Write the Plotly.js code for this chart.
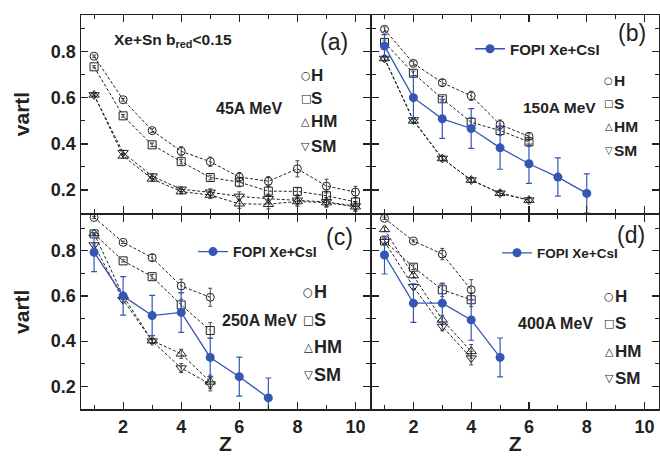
<!DOCTYPE html>
<html><head><meta charset="utf-8">
<script src="https://cdn.plot.ly/plotly-3.0.1.min.js"></script>
<style>html,body{margin:0;padding:0;background:#fff}#chart{width:660px;height:466px}</style>
</head><body><div id="chart"></div>
<script>
// ---- data ----
const Z_A = [1,2,3,4,5,6,7,8,9,10];
const A_H = [0.781,0.592,0.458,0.368,0.323,0.256,0.238,0.292,0.217,0.191];
const A_H_ERR = [0.005,0.006,0.008,0.02,0.02,0.02,0.02,0.035,0.03,0.025];
const A_S = [0.735,0.522,0.396,0.323,0.254,0.234,0.195,0.194,0.175,0.148];
const A_S_ERR = [0.005,0.006,0.008,0.01,0.01,0.02,0.02,0.015,0.02,0.02];
const A_HM = [0.613,0.348,0.248,0.193,0.178,0.140,0.138,0.150,0.145,0.127];
const A_SM = [0.613,0.362,0.260,0.203,0.190,0.172,0.162,0.155,0.148,0.130];
const A_T_ERR = [0.005,0.01,0.01,0.01,0.015,0.02,0.02,0.02,0.02,0.02];

const Z_B = [1,2,3,4,5,6];
const B_H = [0.898,0.750,0.666,0.609,0.484,0.433];
const B_H_ERR = [0.01,0.01,0.015,0.02,0.02,0.015];
const B_S = [0.841,0.707,0.596,0.494,0.458,0.409];
const B_S_ERR = [0.01,0.01,0.01,0.02,0.02,0.02];
const B_HM = [0.771,0.500,0.337,0.243,0.186,0.156];
const B_SM = [0.771,0.504,0.337,0.243,0.186,0.156];
const B_T_ERR = [0.01,0.01,0.01,0.01,0.01,0.01];
const Z_B_FOPI = [1,2,3,4,5,6,7,8];
const B_FOPI = [0.825,0.601,0.509,0.467,0.383,0.314,0.256,0.185];
const B_FOPI_ERR = [0.05,0.095,0.085,0.086,0.093,0.085,0.083,0.085];

const Z_C = [1,2,3,4,5];
const C_H = [0.947,0.837,0.769,0.644,0.594];
const C_H_ERR = [0.005,0.005,0.015,0.03,0.04];
const C_S = [0.874,0.755,0.685,0.560,0.447];
const C_S_ERR = [0.005,0.005,0.01,0.025,0.035];
const C_HM = [0.876,0.600,0.402,0.344,0.220];
const C_SM = [0.825,0.583,0.400,0.281,0.210];
const C_T_ERR = [0.005,0.01,0.01,0.02,0.03];
const Z_C_FOPI = [1,2,3,4,5,6,7];
const C_FOPI = [0.793,0.600,0.513,0.527,0.328,0.243,0.149];
const C_FOPI_ERR = [0.086,0.085,0.089,0.088,0.085,0.086,0.088];

const Z_D = [1,2,3,4];
const D_H = [0.943,0.843,0.785,0.627];
const D_H_ERR = [0.005,0.005,0.025,0.045];
const D_S = [0.843,0.727,0.627,0.583];
const D_S_ERR = [0.01,0.01,0.03,0.03];
const D_HM = [0.894,0.690,0.494,0.355];
const D_SM = [0.840,0.641,0.465,0.325];
const D_T_ERR = [0.01,0.01,0.02,0.03];
const Z_D_FOPI = [1,2,3,4,5];
const D_FOPI = [0.781,0.568,0.568,0.494,0.328];
const D_FOPI_ERR = [0.084,0.085,0.085,0.09,0.086];

const MODEL_NAMES = ['H','S','HM','SM'];
const MODEL_SYMBOLS = ['circle-open','square-open','triangle-up-open','triangle-down-open'];
const MODEL_GLYPHS = ['○','□','△','▽'];
const FOPI_LABEL = 'FOPI Xe+CsI';
const ENERGY_LABELS = ['45A MeV','150A MeV','250A MeV','400A MeV'];
const PANEL_LABELS = ['(a)','(b)','(c)','(d)'];

// ---- build ----
const FONT = 'Liberation Sans, Arial, Helvetica, sans-serif';
const INK = '#222';
const BLUE = '#3557b4';
const L = 81, R = 1, T = 15, B = 57, WD = 660, HT = 466;
const PW = WD - L - R, PH = HT - T - B;
const px = v => (v - L) / PW;
const py = v => (HT - B - v) / PH;

const panels = [
  {ax:'', z:Z_A, m:[A_H,A_S,A_HM,A_SM], e:[A_H_ERR,A_S_ERR,A_T_ERR,A_T_ERR]},
  {ax:'2', z:Z_B, m:[B_H,B_S,B_HM,B_SM], e:[B_H_ERR,B_S_ERR,B_T_ERR,B_T_ERR], fz:Z_B_FOPI, f:B_FOPI, fe:B_FOPI_ERR, leg:'legend'},
  {ax:'3', z:Z_C, m:[C_H,C_S,C_HM,C_SM], e:[C_H_ERR,C_S_ERR,C_T_ERR,C_T_ERR], fz:Z_C_FOPI, f:C_FOPI, fe:C_FOPI_ERR, leg:'legend2'},
  {ax:'4', z:Z_D, m:[D_H,D_S,D_HM,D_SM], e:[D_H_ERR,D_S_ERR,D_T_ERR,D_T_ERR], fz:Z_D_FOPI, f:D_FOPI, fe:D_FOPI_ERR, leg:'legend3'}
];

const traces = [];
panels.forEach(p => {
  p.m.forEach((ys, k) => {
    traces.push({
      type:'scatter', mode:'lines+markers', x:p.z, y:ys,
      xaxis:'x'+p.ax, yaxis:'y'+p.ax, showlegend:false, name:MODEL_NAMES[k],
      line:{color:INK, width:1, dash:'3px,2px'},
      marker:{symbol:MODEL_SYMBOLS[k], size:(k>=2?9:8), color:INK, line:{width:1}},
      error_y:{type:'data', array:p.e[k], visible:true, color:INK, thickness:0.8, width:2}
    });
  });
  if (p.f) {
    traces.push({
      type:'scatter', mode:'lines+markers', x:p.fz, y:p.f,
      xaxis:'x'+p.ax, yaxis:'y'+p.ax, name:FOPI_LABEL, showlegend:true, legend:p.leg,
      line:{color:BLUE, width:1.3},
      marker:{symbol:'circle', size:9, color:BLUE},
      error_y:{type:'data', array:p.fe, visible:true, color:BLUE, thickness:1.2, width:3}
    });
  }
});

const LW = 1.5;
const axBase = {
  showline:true, linecolor:INK, linewidth:LW, mirror:'allticks',
  ticks:'inside', ticklen:7, tickwidth:1.2, tickcolor:INK,
  showgrid:false, zeroline:false,
  tickfont:{family:FONT, size:18, color:INK, weight:'bold'}
};
const xBase = Object.assign({}, axBase, {range:[0.55,10.5], tick0:0, dtick:2,
  minor:{ticks:'inside', ticklen:4, dtick:1, tick0:0, tickcolor:INK, tickwidth:1}});
const yBase = Object.assign({}, axBase, {range:[0.1,0.96], tick0:0, dtick:0.2, tickformat:'.1f',
  minor:{ticks:'inside', ticklen:4, dtick:0.1, tick0:0, tickcolor:INK, tickwidth:1}});
const split = (HT - B - 213) / PH;
const xsplit = 0.5;
const dX = LW / PW, dY = LW / PH;
const titleFont = {family:FONT, size:21, color:INK, weight:'bold'};

const layout = {
  width:WD, height:HT, paper_bgcolor:'#fff', plot_bgcolor:'#fff',
  margin:{l:L, r:R, t:T, b:B},
  showlegend:true,
  xaxis: Object.assign({}, xBase, {domain:[0,xsplit], anchor:'y', showticklabels:false}),
  xaxis2: Object.assign({}, xBase, {domain:[xsplit+dX,1], anchor:'y2', showticklabels:false}),
  xaxis3: Object.assign({}, xBase, {domain:[0,xsplit], anchor:'y3', ticklabelstandoff:1, title:{text:'Z', font:titleFont, standoff:0}}),
  xaxis4: Object.assign({}, xBase, {domain:[xsplit+dX,1], anchor:'y4', ticklabelstandoff:1, title:{text:'Z', font:titleFont, standoff:0}}),
  yaxis: Object.assign({}, yBase, {domain:[split,1], anchor:'x', title:{text:'vartl', font:titleFont, standoff:15}}),
  yaxis2: Object.assign({}, yBase, {domain:[split,1], anchor:'x2', showticklabels:false}),
  yaxis3: Object.assign({}, yBase, {domain:[0,split-dY], anchor:'x3', title:{text:'vartl', font:titleFont, standoff:15}}),
  yaxis4: Object.assign({}, yBase, {domain:[0,split-dY], anchor:'x4', showticklabels:false}),
  legend: {x:px(470), xanchor:'left', y:py(49), yanchor:'middle', bgcolor:'rgba(0,0,0,0)', borderwidth:0,
    font:{family:FONT, size:15, color:INK, weight:'bold'}},
  legend2: {x:px(193), xanchor:'left', y:py(252), yanchor:'middle', bgcolor:'rgba(0,0,0,0)', borderwidth:0,
    font:{family:FONT, size:14, color:INK, weight:'bold'}},
  legend3: {x:px(497), xanchor:'left', y:py(253), yanchor:'middle', bgcolor:'rgba(0,0,0,0)', borderwidth:0,
    font:{family:FONT, size:13.5, color:INK, weight:'bold'}},
  annotations: []
};

function ann(text, x, y, size, opts) {
  layout.annotations.push(Object.assign({
    text:text, xref:'paper', yref:'paper', x:px(x), y:py(y), xanchor:'left', yanchor:'middle',
    showarrow:false, borderpad:0, font:{family:FONT, size:size, color:INK, weight:'bold'}
  }, opts || {}));
}
ann('Xe+Sn b<sub>red</sub>&lt;0.15', 113, 40, 15.5);
const panelLab = [[334,42],[632,33],[339,237],[631,235]];
PANEL_LABELS.forEach((t,i) => ann(t, panelLab[i][0], panelLab[i][1], 23,
  {xanchor:'center', font:{family:FONT, size:23, color:INK, weight:'normal'}}));
const energyPos = [[215,108,16],[522,107,15.5],[221,320,16],[517,323,16]];
ENERGY_LABELS.forEach((t,i) => ann(t, energyPos[i][0], energyPos[i][1], energyPos[i][2]));
const keyPos = [
  {gx:305.5, tx:310, ys:[75,98,122,146], size:17, g:11},
  {gx:608.5, tx:613, ys:[81,104,127,150], size:15.5, g:10},
  {gx:308, tx:313, ys:[292,320,347,375], size:18, g:11.5},
  {gx:609, tx:614, ys:[296,323,351,378], size:17, g:11}
];
keyPos.forEach(k => {
  MODEL_NAMES.forEach((n,j) => {
    ann(MODEL_GLYPHS[j], k.gx, k.ys[j], k.g,
      {xanchor:'center', font:{family:'DejaVu Sans', size:k.g, color:INK, weight:'normal'}});
    ann(n, k.tx, k.ys[j], k.size);
  });
});

Plotly.newPlot('chart', traces, layout, {displayModeBar:false, staticPlot:true});
</script>
</body></html>
